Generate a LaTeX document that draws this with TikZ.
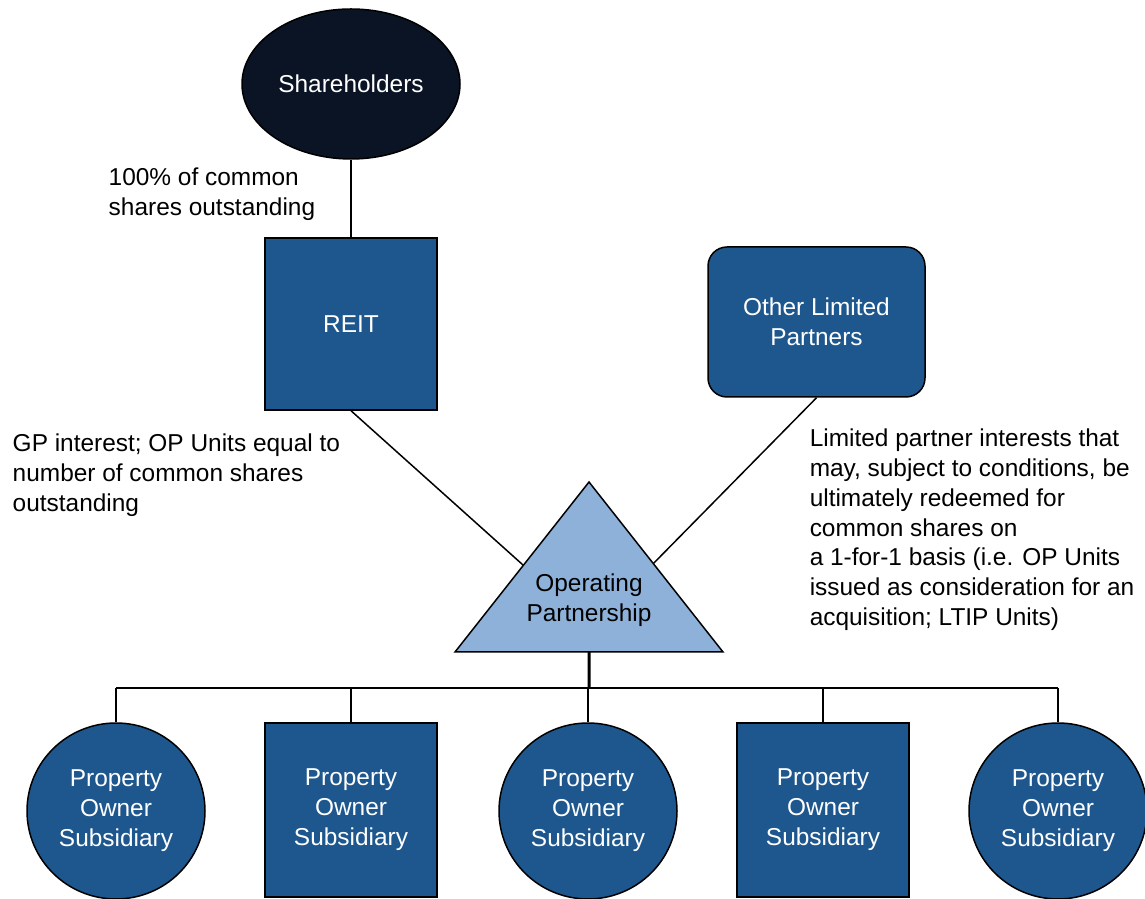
\documentclass[tikz,border=0pt]{standalone}
\usepackage{fontspec}
\setmainfont{Liberation Sans}
\usetikzlibrary{shapes.geometric,calc}
\definecolor{navy}{HTML}{0A1424}
\definecolor{reitblue}{HTML}{1E578E}
\definecolor{opblue}{HTML}{8EB1D9}
\begin{document}
\begin{tikzpicture}[line width=0.85pt,
  every node/.style={font=\fontsize{13.9}{17}\selectfont, align=center},
  entity/.style={draw, fill=reitblue, text=white, inner sep=0pt},
  box/.style={entity, rectangle, minimum width=3.44cm, minimum height=3.44cm},
  sub/.style={entity, ellipse, minimum width=3.56cm, minimum height=3.52cm},
  subbox/.style={entity, rectangle, minimum width=3.44cm, minimum height=3.48cm},
  note/.style={anchor=north west, align=left, inner sep=0pt}]
\useasboundingbox (0,0) rectangle (22.9,17.96);
% Owners
\node[entity, ellipse, fill=navy, minimum width=4.36cm, minimum height=3cm] (holders) at (7.02,16.28) {Shareholders};
\node[box] (reit) at (7.02,11.48) {REIT};
\node[entity, rounded corners=0.38cm, minimum width=4.34cm, minimum height=3cm] (olp) at (16.33,11.52) {Other Limited\\Partners};
\draw (holders) -- (reit);
% Operating partnership
\coordinate (apex) at (11.78,8.32);
\coordinate (baseL) at (9.10,4.92);
\coordinate (baseR) at (14.46,4.92);
\filldraw[fill=opblue] (apex) -- (baseL) -- (baseR) -- cycle;
\node (op) at (11.78,5.96) {Operating\\Partnership};
\coordinate (opL) at ($(apex)!0.49!(baseL)$);
\coordinate (opR) at ($(apex)!0.48!(baseR)$);
\draw (reit.south) -- (opL);
\draw (olp.south) -- (opR);
% Subsidiaries
\node[sub] (sub1) at (2.32,1.74) {Property\\Owner\\Subsidiary};
\node[subbox] (sub2) at (7.02,1.76) {Property\\Owner\\Subsidiary};
\node[sub] (sub3) at (11.76,1.74) {Property\\Owner\\Subsidiary};
\node[subbox] (sub4) at (16.46,1.76) {Property\\Owner\\Subsidiary};
\node[sub] (sub5) at (21.16,1.74) {Property\\Owner\\Subsidiary};
\coordinate (baseM) at ($(baseL)!0.5!(baseR)$);
\coordinate (bus) at (11.78,4.20);
\draw[line width=1.7pt] (baseM) -- (bus);
\draw (sub1.north |- bus) -- (sub5.north |- bus);
\foreach \s in {sub1,sub2,sub3,sub4,sub5}
  \draw (\s.north |- bus) -- (\s.north);
% Annotations
\node[note] (sharesnote) at (2.16,14.62) {100\% of common\\shares outstanding};
\node[note] (gpnote) at (0.24,9.30) {GP interest; OP Units equal to\\number of common shares\\outstanding};
\node[note] (lpnote) at (16.18,9.40) {Limited partner interests that\\may, subject to conditions, be\\ultimately redeemed for\\common shares on\\a 1-for-1 basis (i.e. OP Units\\issued as consideration for an\\acquisition; LTIP Units)};
\end{tikzpicture}
\end{document}
